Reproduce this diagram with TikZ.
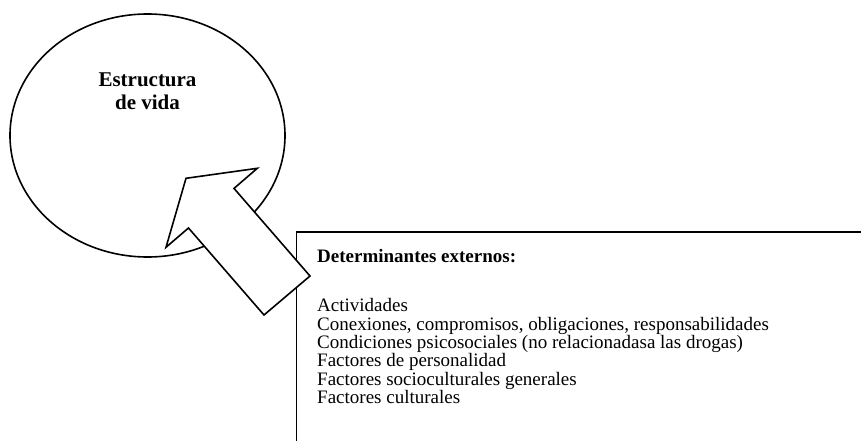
\documentclass[tikz,border=0pt]{standalone}
\usepackage{fontspec}
\setmainfont{Liberation Serif}

\begin{document}
\begin{tikzpicture}[x=1pt,y=-1pt,line join=miter]
        \useasboundingbox (0,0) rectangle (861,441);
        % la estructura de vida
        \draw[line width=1.6pt] (147.5,135.5) ellipse (137.5 and 121.5);
        \node[align=center,inner sep=0pt,anchor=base,font=\bfseries\fontsize{21}{23.3}\selectfont] (vida) at (147.5,110) {Estructura\\de vida};
        % recuadro de los determinantes
        \draw[line width=1.7pt] (296.5,441)--(296.5,232)--(861,232);
        \node[inner sep=0pt,anchor=base west,font=\bfseries\fontsize{19}{18.4}\selectfont] (titulo) at (317,262) {Determinantes externos:};
        \node[align=left,inner sep=0pt,anchor=base west,font=\fontsize{19}{18.35}\selectfont] (lista) at (317,403.5) {Actividades\\
            Conexiones, compromisos, obligaciones, responsabilidades\\
            Condiciones psicosociales (no relacionadasa las drogas)\\
            Factores de personalidad\\
            Factores socioculturales generales\\
            Factores culturales};
        % flecha
        \coordinate (p) at (186,178.3);
        \coordinate (bd) at (257.3,168.3);
        \coordinate (id) at (234,188.4);
        \coordinate (fd) at (310,276);
        \coordinate (fi) at (264,315);
        \coordinate (ii) at (188.5,228);
        \coordinate (bi) at (166,247.3);
        \draw[line width=1.6pt,fill=white] (p)--(bd)--(id)--(fd)--(fi)--(ii)--(bi)--cycle;
    \end{tikzpicture}
\end{document}
